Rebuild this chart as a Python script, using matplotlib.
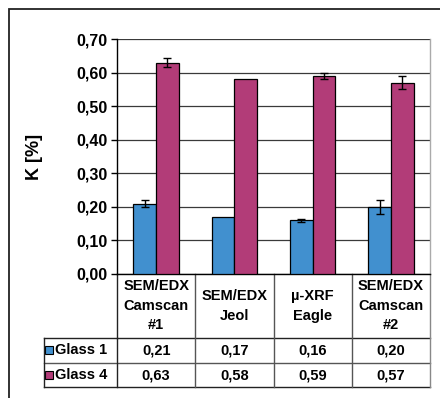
import numpy as np
import matplotlib
matplotlib.use("Agg")
import matplotlib.pyplot as plt
from matplotlib.patches import Rectangle
from matplotlib.lines import Line2D

plt.rcParams['font.family'] = ['Liberation Sans', 'DejaVu Sans']
plt.rcParams['font.weight'] = 'bold'

# methods and measured K content
methods = ["SEM/EDX\nCamscan\n#1", "SEM/EDX\nJeol", "µ-XRF\nEagle", "SEM/EDX\nCamscan\n#2"]
series = ["Glass 1", "Glass 4"]
glass1 = [0.21, 0.17, 0.16, 0.20]
glass4 = [0.63, 0.58, 0.59, 0.57]
glass1_err = [0.010, 0.0, 0.005, 0.020]
glass4_err = [0.013, 0.0, 0.009, 0.020]
colors = ["#4190CF", "#B23C78"]
yticks = [0.0, 0.1, 0.2, 0.3, 0.4, 0.5, 0.6, 0.7]

W, H = 440, 398
fig = plt.figure(figsize=(W / 100, H / 100), dpi=100)

# outer chart frame
fig.patches.append(Rectangle((9 / W, -0.1), 1.2, (H - 9) / H + 0.1,
                             transform=fig.transFigure, fill=False,
                             edgecolor="#222222", linewidth=1.3))

ax = fig.add_axes([117 / W, 1 - 274 / H, 313 / W, 235 / H])
x = np.arange(len(methods))
bw = 0.29
vals = [glass1, glass4]
errs = [glass1_err, glass4_err]
for k in range(2):
    xs = x + (k - 0.5) * bw
    ax.bar(xs, vals[k], bw, color=colors[k],
           edgecolor="black", linewidth=0.9, zorder=3)
    has = np.array(errs[k]) > 0
    ax.errorbar(xs[has], np.array(vals[k])[has], yerr=np.array(errs[k])[has],
                fmt="none", ecolor="black", elinewidth=1, capsize=3.2,
                capthick=1, zorder=4)

ax.set_xlim(-0.5, len(methods) - 0.5)
ax.set_ylim(0, 0.7)
ax.set_yticks(yticks)
ax.set_yticklabels([f"{t:.2f}".replace(".", ",") for t in yticks], fontsize=11.5)
ax.tick_params(axis="y", direction="out", length=4, width=1, pad=2.5)
ax.set_xticks([])
ax.yaxis.grid(True, color="#3a3a3a", linewidth=0.9, zorder=0)
ax.set_axisbelow(True)
for s in ["top", "right"]:
    ax.spines[s].set_visible(False)
ax.spines["left"].set_linewidth(1)
ax.spines["bottom"].set_linewidth(1)
ax.plot([1, 1], [0, 1], transform=ax.transAxes, color="#aaaaaa",
        linewidth=1, clip_on=False)
ax.set_ylabel("K [%]", fontsize=13, fontweight="bold")
ax.yaxis.set_label_coords(-0.236, 0.5)

# data table under the bars
tr = ax.get_xaxis_transform()
y_head, y_r1, y_r2 = -0.2723, -0.3787, -0.4809
x_left = -1.433
n = len(methods)
lc = "#222222"

def hline(x0, x1, y, c=lc):
    ax.add_line(Line2D([x0, x1], [y, y], transform=tr, color=c,
                       linewidth=1, clip_on=False))

def vline(xx, y0, y1, c=lc):
    ax.add_line(Line2D([xx, xx], [y0, y1], transform=tr, color=c,
                       linewidth=1, clip_on=False))

hline(-0.5, n - 0.5, y_head)
hline(x_left, -0.5, y_head)
hline(x_left, n - 0.5, y_r1, "#555555")
hline(x_left, n - 0.5, y_r2)
vline(x_left, y_head, y_r2)
for i in range(n):
    vline(i - 0.5, 0, y_r2, lc if i == 0 else "#555555")
vline(n - 0.5, 0, y_r2, "#888888")

for i, m in enumerate(methods):
    ax.text(i, y_head / 2, m, transform=tr, ha="center", va="center",
            fontsize=10.5, fontweight="bold", linespacing=1.5)

rows = [(y_head + y_r1) / 2, (y_r1 + y_r2) / 2]
for k in range(2):
    yy = rows[k]
    ax.text(x_left + 0.137, yy, series[k], transform=tr, ha="left",
            va="center", fontsize=10.5, fontweight="bold")
    ax.add_patch(Rectangle((x_left + 0.015, yy - 0.017), 0.105, 0.036,
                           transform=tr, facecolor=colors[k],
                           edgecolor="black", linewidth=0.8, clip_on=False))
    for i in range(n):
        ax.text(i, yy, f"{vals[k][i]:.2f}".replace(".", ","), transform=tr,
                ha="center", va="center", fontsize=10.5, fontweight="bold")

fig.savefig("out.png", dpi=100)
